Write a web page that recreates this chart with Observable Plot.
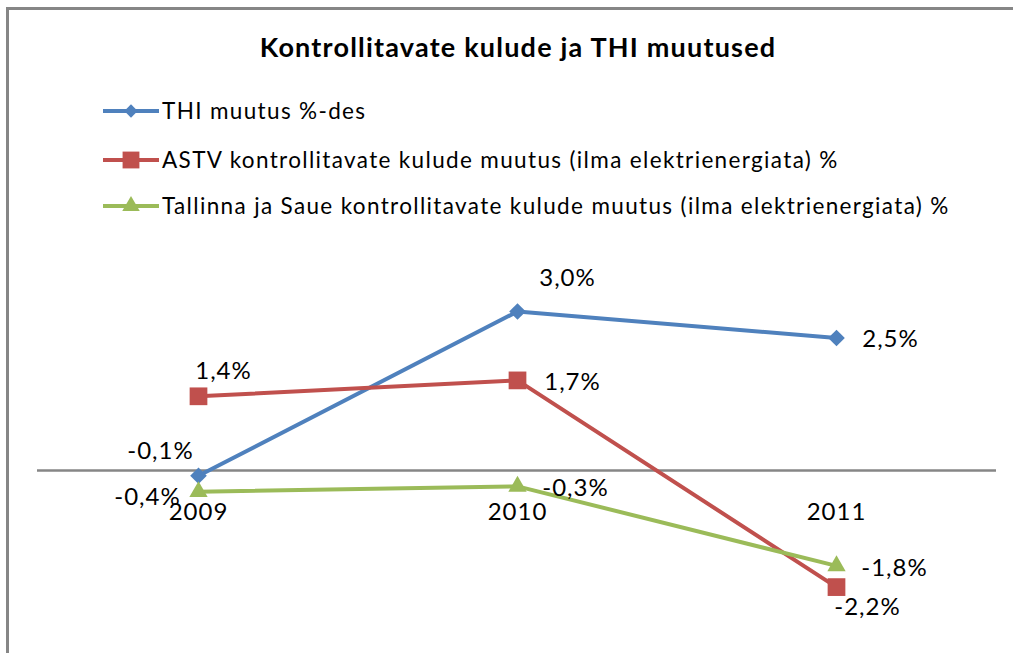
<!DOCTYPE html>
<html><head><meta charset="utf-8">
<script src="https://cdn.jsdelivr.net/npm/d3@7"></script>
<script src="https://cdn.jsdelivr.net/npm/@observablehq/plot@0.6"></script>
<style>
html,body{margin:0;padding:0;background:#fff;}
#wrap{position:relative;width:1013px;height:653px;overflow:hidden;font-family:Lato,"Noto Sans",sans-serif;color:#000;}
#frame{position:absolute;left:6px;top:7px;width:1100px;height:700px;border-left:3px solid #868686;border-top:3px solid #868686;pointer-events:none;}
#header{position:relative;height:240px;}
#title{position:absolute;left:0;width:1036px;top:31px;text-align:center;font-weight:700;font-size:27px;letter-spacing:1.2px;line-height:1.2;}
.leg{position:absolute;left:103px;display:flex;align-items:center;font-size:22.5px;letter-spacing:1.35px;line-height:1.2;white-space:nowrap;}
.leg svg{margin-right:3px;}
#chart svg{display:block;}
</style></head>
<body>
<div id="wrap">
  <div id="header">
    <div id="title">Kontrollitavate kulude ja THI muutused</div>
    <div id="legend"></div>
  </div>
  <div id="chart"></div>
  <div id="frame"></div>
</div>
<script>
const years = ["2009", "2010", "2011"];
const seriesNames = [
  "THI muutus %-des",
  "ASTV kontrollitavate kulude muutus (ilma elektrienergiata) %",
  "Tallinna ja Saue kontrollitavate kulude muutus (ilma elektrienergiata) %"
];
const thiValues = [-0.1, 3.0, 2.5];
const astvValues = [1.4, 1.7, -2.2];
const tallinnValues = [-0.4, -0.3, -1.8];

const valueArrays = [thiValues, astvValues, tallinnValues];
const colors = ["#4F81BD", "#C0504D", "#9BBB59"];
const symbols = ["diamond2", "square", "triangle"];
const radii = [7.5, 10, 6.8];
const legendRadii = [6, 9.5, 6.5];
// label offsets (dx, dy) per series/point, like Excel label placement
const labelOffsets = [
  [[-38, -24], [50, -33], [54, 1]],
  [[25, -25], [55, 2], [31, 20]],
  [[-51, 6], [58, 2], [58, 2]]
];

const fmt = v => v.toFixed(1).replace(".", ",") + "%";

// Legend
const legend = document.getElementById("legend");
const legendTops = [97, 146, 192];
const d3Sym = {diamond2: d3.symbolDiamond2, square: d3.symbolSquare, triangle: d3.symbolTriangle};
seriesNames.forEach((name, i) => {
  const row = document.createElement("div");
  row.className = "leg";
  row.style.top = legendTops[i] + "px";
  const svg = d3.create("svg").attr("width", 56).attr("height", 26);
  svg.append("line").attr("x1", 0).attr("x2", 56).attr("y1", 13).attr("y2", 13)
    .attr("stroke", colors[i]).attr("stroke-width", 4);
  svg.append("path").attr("transform", "translate(28,13)")
    .attr("d", d3.symbol(d3Sym[symbols[i]], Math.PI * legendRadii[i] ** 2)())
    .attr("fill", colors[i]);
  row.appendChild(svg.node());
  const span = document.createElement("span");
  span.textContent = name;
  row.appendChild(span);
  legend.appendChild(row);
});

// Data rows
const rows = [];
valueArrays.forEach((vals, s) => {
  vals.forEach((v, j) => rows.push({series: s, year: years[j], value: v, label: fmt(v), j}));
});

const marks = [Plot.ruleY([0], {stroke: "#868686", strokeWidth: 2.5})];
for (let s = 0; s < 3; s++) {
  const data = rows.filter(r => r.series === s);
  marks.push(Plot.line(data, {x: "year", y: "value", stroke: colors[s], strokeWidth: 4}));
  marks.push(Plot.dot(data, {x: "year", y: "value", symbol: () => symbols[s], r: radii[s], fill: colors[s], stroke: "none"}));
}
rows.forEach(r => {
  const [dx, dy] = labelOffsets[r.series][r.j];
  marks.push(Plot.text([r], {x: "year", y: "value", text: "label", dx, dy, fontSize: 24, fill: "#000"}));
});
marks.push(Plot.text(years, {x: d => d, y: () => 0, dy: 42, text: d => d, fontSize: 24, fill: "#000"}));

const chart = Plot.plot({
  width: 1013,
  height: 413,
  marginLeft: 37,
  marginRight: 17,
  marginTop: 0,
  marginBottom: 0,
  style: {fontFamily: 'Lato, "Noto Sans", sans-serif', background: "transparent", overflow: "visible", letterSpacing: "1px"},
  x: {type: "point", domain: years, padding: 0.5, axis: null},
  y: {domain: [-3, 3.5], range: [389, 44.5], axis: null},
  symbol: {type: "identity"},
  marks
});
document.getElementById("chart").appendChild(chart);
</script>
</body></html>
